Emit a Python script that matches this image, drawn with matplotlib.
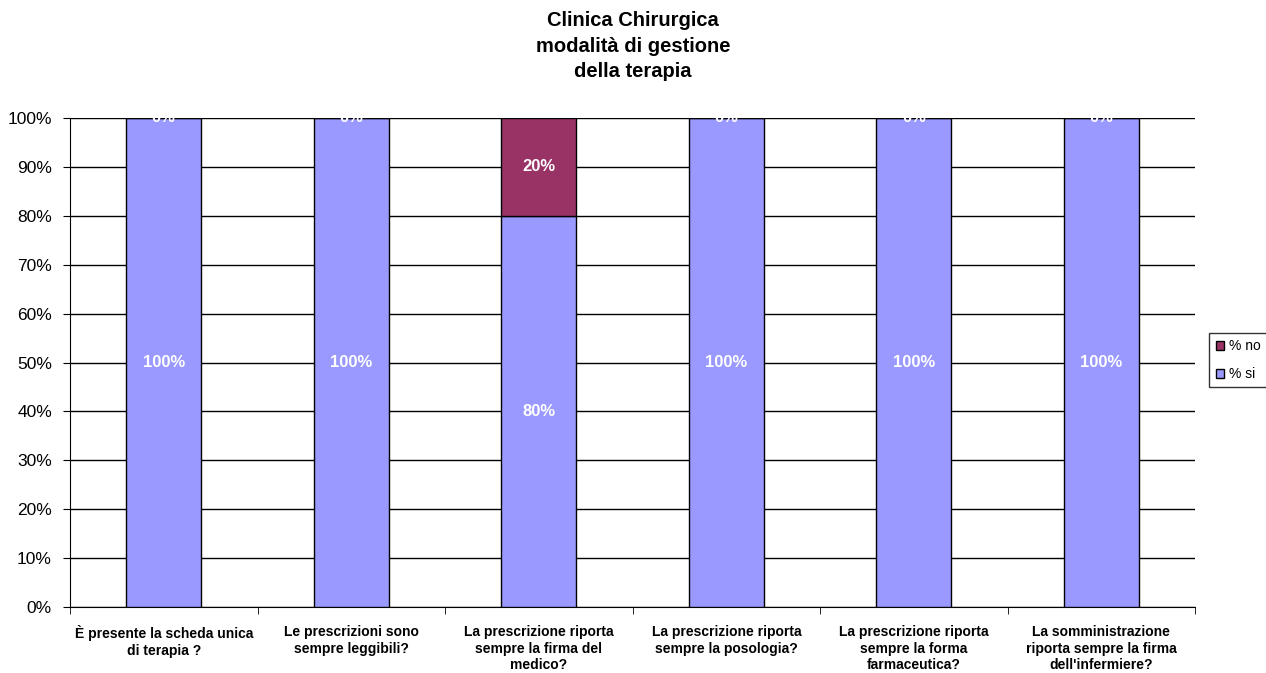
import matplotlib.pyplot as plt
import numpy as np

plt.rcParams['font.family'] = ['Liberation Sans', 'DejaVu Sans']

# Dati
domande = [
    "È presente la scheda unica\ndi terapia ?",
    "Le prescrizioni sono\nsempre leggibili?",
    "La prescrizione riporta\nsempre la firma del\nmedico?",
    "La prescrizione riporta\nsempre la posologia?",
    "La prescrizione riporta\nsempre la forma\nfarmaceutica?",
    "La somministrazione\nriporta sempre la firma\ndell'infermiere?",
]
perc_si = [100, 100, 80, 100, 100, 100]
perc_no = [0, 0, 20, 0, 0, 0]

fig = plt.figure(figsize=(12.66, 6.73), dpi=100)
ax = fig.add_axes([0.0553, 0.098, 0.8887, 0.7267])

x = np.arange(len(domande))
larghezza = 0.4

b_si = ax.bar(x, perc_si, larghezza, color='#9999FF', edgecolor='black', linewidth=1, label='% si', zorder=3)
b_no = ax.bar(x, perc_no, larghezza, bottom=perc_si, color='#993366', edgecolor='black', linewidth=1, label='% no', zorder=3)

# Etichette sulle barre
for i in range(len(domande)):
    ax.text(x[i], perc_si[i] / 2, f"{perc_si[i]}%", ha='center', va='center',
            color='white', fontweight='bold', fontsize=12, zorder=4)
    ax.text(x[i], perc_si[i] + perc_no[i] / 2, f"{perc_no[i]}%", ha='center', va='center',
            color='white', fontweight='bold', fontsize=12, zorder=4)

ax.set_xlim(-0.5, len(domande) - 0.5)
ax.set_ylim(0, 100)
ax.set_yticks(range(0, 101, 10))
ax.set_yticklabels([f"{v}%" for v in range(0, 101, 10)], fontsize=12.5)
ax.yaxis.grid(True, color='black', linewidth=1, zorder=0)

ax.set_xticks(x)
ax.set_xticklabels(domande, fontsize=10, fontweight='bold', linespacing=1.22)
ax.tick_params(axis='x', which='major', length=0, pad=13)
ax.set_xticks(np.arange(-0.5, len(domande), 1), minor=True)
ax.tick_params(axis='x', which='minor', length=5, color='black')
ax.tick_params(axis='y', length=5, color='black', pad=8)

for s in ['top', 'right']:
    ax.spines[s].set_visible(False)
ax.spines['left'].set_color('black')
ax.spines['bottom'].set_color('black')

fig.text(0.5, 0.983, "Clinica Chirurgica\nmodalità di gestione\ndella terapia", ha='center', va='top',
         fontsize=14.5, fontweight='bold', linespacing=1.42)

handles = [b_no, b_si]
fig.legend(handles, ['% no', '% si'], loc='center left', bbox_to_anchor=(0.953, 0.465),
           frameon=True, fancybox=False, edgecolor='black', fontsize=10,
           handlelength=0.6, handleheight=0.6, handletextpad=0.35, borderpad=0.45,
           borderaxespad=0.2, labelspacing=1.0)

plt.savefig("out.png", dpi=100)
